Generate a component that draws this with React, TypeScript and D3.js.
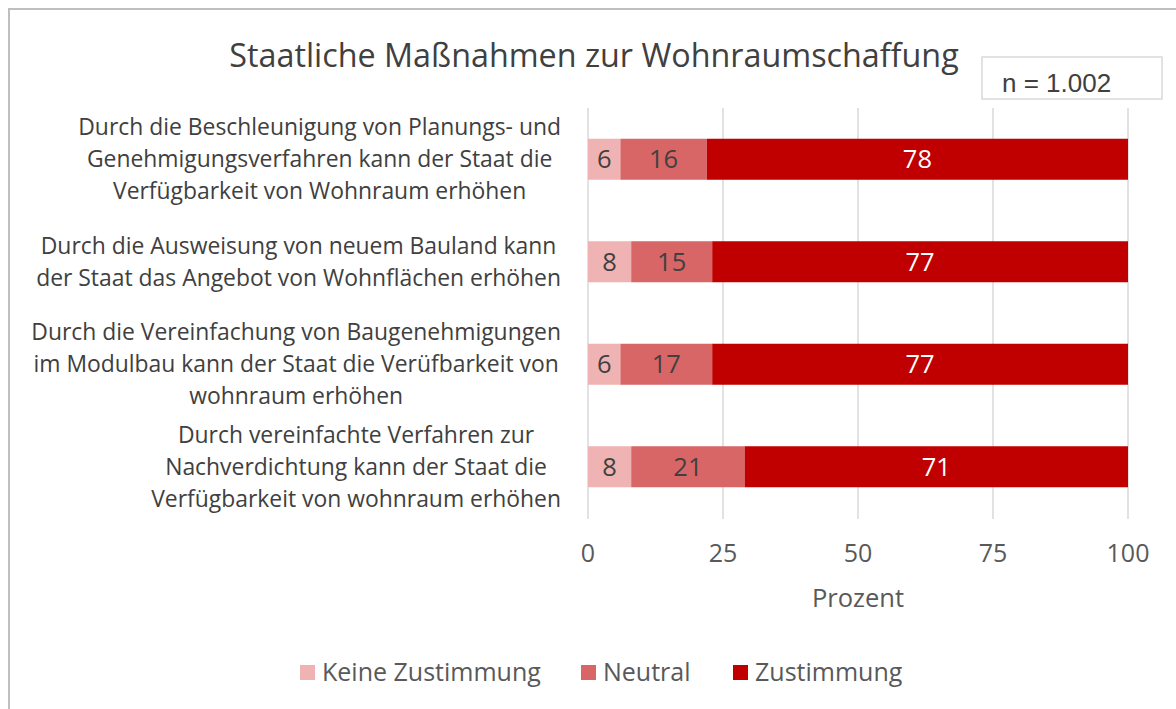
import React, { useEffect, useRef } from "react";
import * as d3 from "d3";

const categories: string[][] = [
  ["Durch die Beschleunigung von Planungs- und", "Genehmigungsverfahren kann der Staat die", "Verfügbarkeit von Wohnraum erhöhen"],
  ["Durch die Ausweisung von neuem Bauland kann", "der Staat das Angebot von Wohnflächen erhöhen"],
  ["Durch die Vereinfachung von Baugenehmigungen", "im Modulbau kann der Staat die Verüfbarkeit von", "wohnraum erhöhen"],
  ["Durch vereinfachte Verfahren zur", "Nachverdichtung kann der Staat die", "Verfügbarkeit von wohnraum erhöhen"],
];
const seriesNames = ["Keine Zustimmung", "Neutral", "Zustimmung"];
const keineZustimmung = [6, 8, 6, 8];
const neutral = [16, 15, 17, 21];
const zustimmung = [78, 77, 77, 71];
const xTicks = [0, 25, 50, 75, 100];
const colors = ["#F0B3B3", "#D96666", "#C00000"];
const labelColors = ["#404040", "#404040", "#FFFFFF"];

const FONT = "'Open Sans', 'DejaVu Sans', sans-serif";

export default function App() {
  const ref = useRef<SVGSVGElement>(null);
  useEffect(() => {
    const svg = d3.select(ref.current!);
    svg.selectAll("*").remove();

    const x = d3.scaleLinear().domain([0, 100]).range([588, 1128]);
    const ids = categories.map((_, i) => String(i));
    const y = d3.scaleBand().domain(ids).range([108, 518]).paddingInner(0.6).paddingOuter(0.3);

    // frame
    svg.append("rect").attr("x", 9).attr("y", 9).attr("width", 1300).attr("height", 900)
      .attr("fill", "#fff").attr("stroke", "#BFBFBF").attr("stroke-width", 2);

    // title
    svg.append("text").attr("x", 594).attr("y", 67).attr("text-anchor", "middle")
      .attr("font-family", FONT).attr("font-size", 32.3).attr("fill", "#404040")
      .text("Staatliche Maßnahmen zur Wohnraumschaffung");

    // grid
    svg.append("g").selectAll("line").data(xTicks).join("line")
      .attr("x1", (d) => x(d)).attr("x2", (d) => x(d)).attr("y1", 108).attr("y2", 519)
      .attr("stroke", "#D9D9D9").attr("stroke-width", 1.5);

    // n box
    svg.append("rect").attr("x", 982).attr("y", 57).attr("width", 180).attr("height", 42)
      .attr("fill", "#fff").attr("stroke", "#D9D9D9").attr("stroke-width", 1.5);
    svg.append("text").attr("x", 1002).attr("y", 92).attr("font-family", "'Liberation Sans', Arial, sans-serif")
      .attr("font-size", 26).attr("fill", "#404040").text("n = 1.002");

    // stacked bars
    const stackData = ids.map((id, i) => ({ id, k: keineZustimmung[i], n: neutral[i], z: zustimmung[i] }));
    const stack = d3.stack<any>().keys(["k", "n", "z"])(stackData);
    const g = svg.append("g");
    stack.forEach((layer, li) => {
      const lg = g.append("g");
      lg.selectAll("rect").data(layer).join("rect")
        .attr("x", (d) => x(d[0])).attr("width", (d) => x(d[1]) - x(d[0]))
        .attr("y", (d) => y(d.data.id)!).attr("height", y.bandwidth())
        .attr("fill", colors[li]);
      lg.selectAll("text").data(layer).join("text")
        .attr("x", (d) => (x(d[0]) + x(d[1])) / 2)
        .attr("y", (d) => y(d.data.id)! + y.bandwidth() / 2)
        .attr("dy", "0.36em").attr("text-anchor", "middle")
        .attr("font-family", FONT).attr("font-size", 25.5).attr("fill", labelColors[li])
        .text((d) => String(d[1] - d[0]));
    });

    // category labels
    const lineH = 32;
    categories.forEach((lines, i) => {
      const cy = y(String(i))! + y.bandwidth() / 2;
      const t = svg.append("text").attr("font-family", FONT).attr("font-size", 22.9)
        .attr("fill", "#404040").attr("text-anchor", "middle");
      const spans = lines.map((l, j) =>
        t.append("tspan").attr("y", cy + (j - (lines.length - 1) / 2) * lineH).attr("dy", "0.36em").text(l)
      );
      const maxW = Math.max(...spans.map((s) => (s.node() as SVGTSpanElement).getComputedTextLength()));
      const cx = 561 - maxW / 2;
      spans.forEach((s) => s.attr("x", cx));
    });

    // x axis ticks
    svg.append("g").selectAll("text").data(xTicks).join("text")
      .attr("x", (d) => x(d)).attr("y", 562).attr("text-anchor", "middle")
      .attr("font-family", FONT).attr("font-size", 25).attr("fill", "#595959").text((d) => String(d));
    svg.append("text").attr("x", 858).attr("y", 607).attr("text-anchor", "middle")
      .attr("font-family", FONT).attr("font-size", 25.5).attr("fill", "#595959").text("Prozent");

    // legend
    const legX = [300, 581, 733];
    seriesNames.forEach((name, i) => {
      svg.append("rect").attr("x", legX[i]).attr("y", 665).attr("width", 15).attr("height", 15).attr("fill", colors[i]);
      svg.append("text").attr("x", legX[i] + 22).attr("y", 681).attr("font-family", FONT)
        .attr("font-size", 25).attr("fill", "#595959").text(name);
    });
  }, []);
  return (
    <svg ref={ref} width={1176} height={709} style={{ position: "absolute", left: 0, top: 0 }} />
  );
}
